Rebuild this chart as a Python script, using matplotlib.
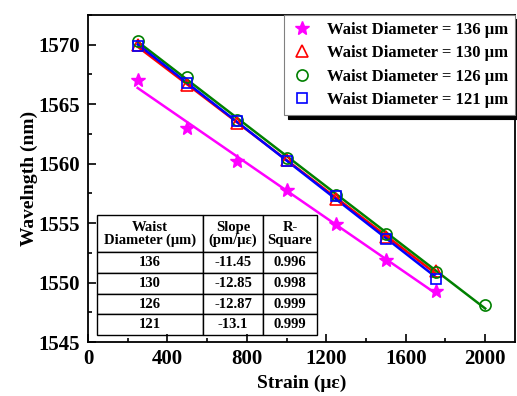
import numpy as np
import matplotlib
matplotlib.use("Agg")
import matplotlib.pyplot as plt
from matplotlib.ticker import MultipleLocator
from matplotlib.lines import Line2D

strain = [250, 500, 750, 1000, 1250, 1500, 1750]
strain_126 = [250, 500, 750, 1000, 1250, 1500, 1750, 2000]
wl_136 = [1567.0, 1563.0, 1560.2, 1557.8, 1554.9, 1551.9, 1549.3]
wl_130 = [1570.0, 1566.6, 1563.4, 1560.3, 1557.0, 1553.8, 1551.0]
wl_126 = [1570.3, 1567.3, 1563.7, 1560.5, 1557.4, 1554.1, 1550.9, 1548.1]
wl_121 = [1569.9, 1566.8, 1563.6, 1560.2, 1557.3, 1553.7, 1550.3]

labels = ["Waist Diameter = 136 \u03bcm", "Waist Diameter = 130 \u03bcm",
          "Waist Diameter = 126 \u03bcm", "Waist Diameter = 121 \u03bcm"]
table_header = ["Waist\nDiameter (\u03bcm)", "Slope\n(pm/\u03bc\u03b5)", "R-\nSquare"]
table_rows = [["136", "-11.45", "0.996"],
              ["130", "-12.85", "0.998"],
              ["126", "-12.87", "0.999"],
              ["121", "-13.1", "0.999"]]

plt.rcParams['font.family'] = ['Liberation Serif', 'DejaVu Serif']
plt.rcParams['font.weight'] = 'bold'

fig = plt.figure(figsize=(5.17, 3.96), dpi=100)
ax = fig.add_axes([88/517, 54/396, 427/517, 327/396])

series = [
    (strain, wl_136, '#FF00FF', '*', 'full', 10),
    (strain, wl_130, '#FF0000', '^', 'none', 8),
    (strain_126, wl_126, '#008000', 'o', 'none', 8),
    (strain, wl_121, '#0000FF', 's', 'none', 7.5),
]
handles = []
for (x, y, c, m, fill, ms), lab in zip(series, labels):
    x = np.array(x); y = np.array(y)
    p = np.polyfit(x, y, 1)
    ax.plot(x, np.polyval(p, x), color=c, lw=1.8, zorder=2)
    if fill == 'full':
        ax.plot(x, y, ls='none', marker=m, ms=ms, color=c, mec=c, zorder=3)
        h = Line2D([], [], ls='none', marker=m, ms=ms, color=c, mec=c)
    else:
        ax.plot(x, y, ls='none', marker=m, ms=ms, mfc='none', mec=c, mew=1.2, zorder=3)
        h = Line2D([], [], ls='none', marker=m, ms=ms, mfc='none', mec=c, mew=1.2)
    handles.append(h)

ax.set_xlim(0, 2150)
ax.set_ylim(1545, 1572.5)
ax.xaxis.set_major_locator(MultipleLocator(400))
ax.xaxis.set_minor_locator(MultipleLocator(200))
ax.yaxis.set_major_locator(MultipleLocator(5))
ax.yaxis.set_minor_locator(MultipleLocator(2.5))
ax.tick_params(which='both', direction='in', labelsize=15, width=1.2)
ax.tick_params(which='major', length=6)
ax.tick_params(which='minor', length=3)
ax.tick_params(axis='y', pad=6)
ax.tick_params(axis='x', pad=5)
for s in ax.spines.values():
    s.set_linewidth(1.3)
for lab in ax.get_xticklabels() + ax.get_yticklabels():
    lab.set_fontweight('bold')

ax.set_xlabel("Strain (\u03bc\u03b5)", fontsize=14, fontweight='bold', labelpad=4)
ax.set_ylabel("Wavelngth (nm)", fontsize=14, fontweight='bold', labelpad=0)

leg = ax.legend(handles, labels, loc='upper right', borderaxespad=0.0,
                fancybox=False, edgecolor='#808080', framealpha=1,
                prop={'size': 12, 'weight': 'bold'}, handletextpad=0.8,
                labelspacing=0.45, handlelength=1.4, borderpad=0.4,
                shadow={'color': 'black', 'alpha': 1, 'ox': 3, 'oy': -3})
leg.get_frame().set_linewidth(0.8)

tab = ax.table(cellText=table_rows, colLabels=table_header, cellLoc='center',
               bbox=[0.021, 0.021, 0.515, 0.367],
               colWidths=[0.482, 0.273, 0.245])
tab.auto_set_font_size(False)
for (r, c), cell in tab.get_celld().items():
    cell.set_linewidth(1.0)
    cell.get_text().set_fontsize(10.5)
    cell.get_text().set_fontweight('bold')
    cell.get_text().set_linespacing(0.95)
    if r == 0:
        cell.set_height(37)
    else:
        cell.set_height(20.5)

fig.savefig("out.png", dpi=100)
